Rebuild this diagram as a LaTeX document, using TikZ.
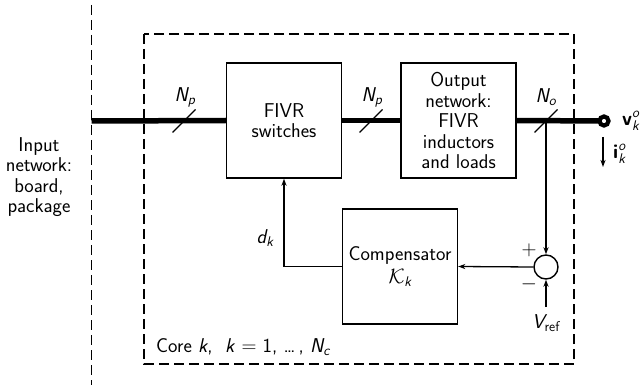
\documentclass[tikz,border=0pt]{standalone}
\usepackage{amsmath}
\usepackage{fontspec}
\renewcommand{\familydefault}{\sfdefault}
\usetikzlibrary{arrows.meta}
\newcommand{\si}[1]{\textit{#1}}
\begin{document}
\begin{tikzpicture}[x=1pt,y=-1pt,
  every node/.style={font=\fontsize{20}{20.5}\selectfont},
  blk/.style={draw,line width=1.4pt,minimum width=115pt,minimum height=115pt,align=center,inner sep=0pt},
  bus/.style={line width=5.5pt},
  thin/.style={line width=1.3pt},
  arr/.style={thin,-{Stealth[length=7pt,width=5pt,inset=2pt]}},
  dsh/.style={line width=1.4pt,dash pattern=on 10pt off 5pt},
  lbl/.style={inner sep=0pt}]
\useasboundingbox (0,0) rectangle (640,385);
% dashed boundaries
\draw[dsh] (91.5,5) -- (91.5,385);
\draw[dsh] (144,34) rectangle (574,364);
% blocks
\node[blk] (sw) at (284,120.5) {FIVR\\switches};
\node[blk] (out) at (458.5,120.5) {Output\\network:\\FIVR\\inductors\\and loads};
\node[blk] (comp) at (400,266.5) {Compensator\\[2pt]$\mathcal{K}_{\si{k}}$};
\node[draw,circle,line width=1.4pt,minimum size=24pt,inner sep=0pt] (sum) at (546,267) {};
% coordinates
\coordinate (in) at (91.5,121);
\coordinate (term) at (604,121);
\coordinate (tap) at (546,121);
\coordinate (vref) at (546,307);
% buses
\draw[bus] (in) -- (sw.west);
\draw[bus] (sw.east) -- (out.west);
\draw[bus] (out.east) -- (term);
\draw[line width=4.2pt,fill=white] (term) circle (4.5pt);
% slashes
\foreach \x in {184,371,546}{\draw[thin] (\x-11.5,132.5) -- (\x+11.5,109.5);}
\node[lbl] (np1) at (185,97) {$\si{N}_{\si{p}}$};
\node[lbl] (np2) at (372,97) {$\si{N}_{\si{p}}$};
\node[lbl] (no) at (546,97) {$\si{N}_{\si{o}}$};
% feedback
\draw[arr] (tap) -- (sum.north);
\draw[arr] (vref) -- (sum.south);
\draw[arr] (sum.west) -- (comp.east);
\draw[arr] (comp.west) -| (sw.south);
\node[lbl] (dk) at (265,238) {$\si{d}_{\si{k}}$};
\node[lbl] (plus) at (529,250) {$+$};
\node[lbl] (minus) at (529,284) {$-$};
\node[lbl,anchor=north] (vr) at (546,314) {$\si{V}_{\textup{ref}}$};
% terminal labels
\node[lbl,anchor=west] (v) at (622,121) {$\textbf{v}_{\si{k}}^{\si{o}}$};
\coordinate (ia) at (603,137);
\coordinate (ib) at (603,167);
\draw[arr] (ia) -- (ib);
\node[lbl,anchor=west] (i) at (613,154) {$\textbf{i}_{\si{k}}^{\si{o}}$};
% texts
\node[align=center,inner sep=0pt] (inp) at (39,177) {Input\\network:\\board,\\package};
\node[lbl,anchor=base west] (core) at (156,352) {Core \si{k},\ \ \si{k} $=$ 1, \ldots\,, $\si{N}_{\si{c}}$};
\end{tikzpicture}
\end{document}
